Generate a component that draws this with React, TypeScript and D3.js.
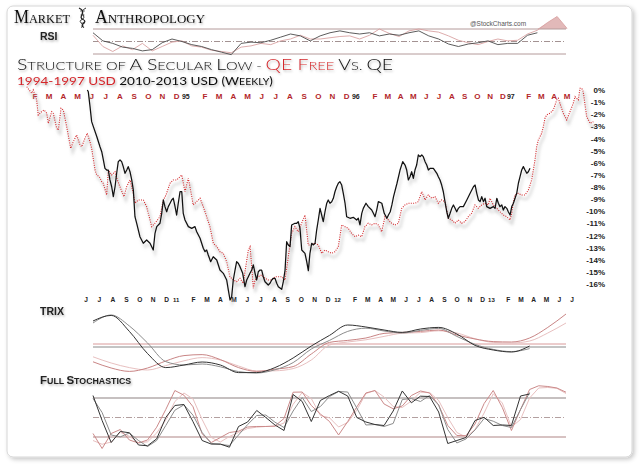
import React from "react";
import * as d3 from "d3";

const W = 640;
const H = 466;

const MONTH_LETTERS = ["J", "F", "M", "A", "M", "J", "J", "A", "S", "O", "N", "D"];
const TOP_YEARS = ["95", "96", "97"];
const BOTTOM_YEARS = ["11", "12", "13"];
const TOP_MONTHS = d3.range(1, 41); // Feb 1994 .. May 1997 (month index from Jan 1994)
const BOTTOM_MONTHS = d3.range(5, 43); // Jun 2010 .. Jul 2013 (month index from Jan 2010)
const PCT_TICKS = d3.range(0, -17, -1);

// 1994-1997 USD (weekly), % below high; [month index from Jan 1994, %]
const usd1994: [number, number][] = [
  [0.42, 0.27], [0.77, -0.27], [0.88, 0], [1.0, -0.41], [1.12, -0.82], [1.23, -2.06], [1.47, -1.79], [1.64, -1.65],
  [1.83, -1.92], [1.94, -2.75], [2.18, -1.79], [2.29, -1.92], [2.53, -3.16], [2.65, -3.3], [2.84, -1.51], [3.0, -1.65],
  [3.24, -3.03], [3.52, -4.81], [3.71, -4.26], [3.94, -3.71], [4.18, -4.54], [4.3, -4.68], [4.53, -3.98], [4.69, -3.57],
  [4.88, -4.26], [5.0, -4.81], [5.24, -6.6], [5.36, -7.01], [5.54, -7.15], [5.71, -7.56], [5.82, -7.69], [6.06, -8.66],
  [6.18, -6.6], [6.41, -7.01], [6.65, -6.74], [6.77, -7.28], [7.0, -7.98], [7.28, -8.8], [7.47, -7.98], [7.71, -7.42],
  [7.94, -8.52], [8.06, -9.34], [8.29, -9.07], [8.65, -9.07], [8.88, -9.62], [9.24, -11.27], [9.47, -10.99], [9.82, -10.45],
  [10.06, -9.07], [10.25, -8.66], [10.53, -7.69], [10.76, -7.42], [11.0, -7.42], [11.36, -7.01], [11.59, -8.39], [11.82, -7.28],
  [11.94, -7.98], [12.17, -9.48], [12.41, -9.21], [12.65, -8.93], [12.88, -9.62], [13.12, -10.45], [13.35, -11.27], [13.59, -12.64],
  [13.83, -12.92], [14.06, -13.34], [14.29, -13.47], [14.53, -14.16], [14.76, -15.4], [15.0, -15.67], [15.24, -15.81], [15.47, -15.53],
  [15.7, -15.94], [16.06, -13.2], [16.18, -12.92], [16.3, -14.57], [16.41, -16.35], [16.53, -15.67], [16.76, -15.4], [17.0, -15.26],
  [17.23, -15.53], [17.47, -15.67], [17.71, -15.67], [17.94, -15.4], [18.17, -15.4], [18.41, -15.4], [18.65, -15.67], [18.88, -13.75],
  [19.12, -11.82], [19.35, -11.27], [19.58, -11.69], [19.82, -10.99], [20.06, -10.31], [20.29, -12.78], [20.53, -12.78], [20.76, -12.64],
  [21.0, -12.78], [21.24, -13.47], [21.47, -13.2], [21.7, -13.34], [21.94, -13.47], [22.17, -13.34], [22.41, -12.92], [22.65, -11.13],
  [22.88, -11.27], [23.11, -11.41], [23.35, -11.82], [23.59, -12.1], [23.82, -11.96], [24.06, -12.1], [24.29, -11.27], [24.52, -10.99],
  [24.76, -11.13], [25.0, -10.99], [25.26, -11.13], [25.52, -11.69], [25.78, -10.45], [26.04, -10.72], [26.3, -10.99], [26.56, -11.13],
  [26.82, -10.99], [27.09, -9.76], [27.34, -9.48], [27.6, -9.34], [27.87, -9.34], [28.13, -9.34], [28.38, -9.21], [28.65, -8.39],
  [28.77, -8.66], [28.91, -9.07], [29.16, -8.66], [29.43, -8.93], [29.69, -8.8], [29.95, -9.34], [30.21, -9.07], [30.47, -9.21],
  [30.73, -10.58], [31.0, -10.72], [31.25, -10.99], [31.51, -10.72], [31.77, -10.99], [32.03, -10.86], [32.29, -10.45], [32.55, -10.17],
  [32.81, -9.48], [33.07, -9.76], [33.34, -9.48], [33.59, -9.34], [33.85, -9.48], [33.98, -8.93], [34.24, -9.48], [34.51, -9.76],
  [34.77, -10.04], [35.02, -10.31], [35.29, -10.45], [35.55, -10.72], [35.68, -10.17], [35.8, -9.34], [35.94, -8.66], [36.2, -8.52],
  [36.46, -8.66], [36.72, -8.66], [36.98, -8.25], [37.24, -7.42], [37.37, -6.6], [37.5, -5.77], [37.63, -4.68], [37.76, -4.12],
  [38.02, -3.57], [38.15, -3.03], [38.28, -2.33], [38.41, -2.06], [38.67, -1.92], [38.93, -1.65], [39.2, -0.82], [39.32, -0.68],
  [39.45, -1.1], [39.71, -1.92], [39.98, -2.47], [40.23, -1.79], [40.49, -1.1], [40.63, -0.55], [40.88, -0.82], [41.02, 0.14],
  [41.15, 0.14], [41.27, -0.14], [41.41, -1.24], [41.54, -2.2], [41.8, -2.75], [42.06, -2.61],
];

// 2010-2013 USD (weekly), % below high; [month index from Jan 2010, %]
const usd2010: [number, number][] = [
  [5.1, 0], [5.17, -0.14], [5.3, -1.37], [5.42, -2.61], [5.54, -3.0], [5.8, -3.83], [6.04, -4.68], [6.17, -5.09],
  [6.29, -5.77], [6.41, -6.46], [6.54, -6.6], [6.66, -6.6], [6.78, -7.42], [6.91, -7.98], [7.03, -8.8], [7.16, -7.98],
  [7.28, -6.87], [7.4, -5.91], [7.53, -5.77], [7.65, -5.91], [7.77, -6.32], [7.9, -6.87], [8.03, -6.6], [8.14, -6.32],
  [8.27, -6.74], [8.4, -7.42], [8.52, -8.25], [8.64, -10.45], [8.77, -11.0], [9.01, -12.1], [9.26, -12.64], [9.51, -12.37],
  [9.76, -12.64], [10.0, -13.2], [10.13, -11.82], [10.26, -11.27], [10.5, -10.99], [10.63, -10.17], [10.75, -9.07], [10.87, -9.62],
  [11.0, -10.04], [11.12, -9.62], [11.25, -9.34], [11.37, -9.07], [11.49, -8.93], [11.62, -9.62], [11.74, -10.31], [11.86, -9.34],
  [11.99, -8.39], [12.12, -8.39], [12.23, -10.17], [12.36, -10.72], [12.61, -11.27], [12.86, -11.41], [13.1, -11.27], [13.23, -11.69],
  [13.48, -12.23], [13.6, -12.64], [13.72, -13.05], [13.85, -13.33], [13.97, -13.2], [14.09, -13.61], [14.27, -14.16], [14.46, -13.75],
  [14.72, -14.02], [14.96, -14.85], [15.21, -15.12], [15.46, -15.67], [15.58, -16.49], [15.71, -17.32], [15.83, -17.05], [15.95, -15.67],
  [16.08, -14.85], [16.2, -14.16], [16.32, -14.29], [16.45, -14.57], [16.65, -15.12], [16.82, -16.22], [16.95, -15.67], [17.07, -15.4],
  [17.19, -15.12], [17.32, -14.85], [17.44, -14.43], [17.57, -15.12], [17.69, -15.67], [17.81, -14.99], [17.94, -14.85], [18.06, -14.85],
  [18.18, -15.4], [18.31, -15.81], [18.55, -16.08], [18.68, -15.94], [18.81, -15.67], [18.93, -15.53], [19.05, -15.53], [19.18, -15.94],
  [19.3, -16.22], [19.55, -16.44], [19.67, -15.81], [19.8, -14.85], [19.92, -12.51], [20.04, -12.78], [20.17, -12.92], [20.29, -11.13],
  [20.54, -10.99], [20.67, -10.99], [20.78, -10.86], [20.91, -11.41], [21.04, -13.2], [21.28, -13.47], [21.41, -14.16], [21.53, -14.9],
  [21.65, -13.47], [21.78, -12.64], [21.9, -12.78], [22.03, -12.64], [22.15, -11.55], [22.27, -10.72], [22.4, -9.76], [22.52, -10.31],
  [22.64, -10.86], [22.77, -10.04], [22.9, -9.34], [23.01, -9.07], [23.14, -9.34], [23.27, -9.21], [23.39, -8.93], [23.51, -8.39],
  [23.64, -7.98], [23.76, -7.69], [23.88, -7.56], [24.01, -7.84], [24.13, -8.52], [24.26, -9.34], [24.38, -10.45], [24.63, -10.58],
  [24.87, -10.5], [25.13, -10.72], [25.26, -10.58], [25.39, -11.13], [25.53, -10.17], [25.65, -9.76], [25.86, -9.34], [26.04, -9.62],
  [26.31, -9.9], [26.44, -10.17], [26.57, -10.45], [26.7, -9.9], [26.83, -9.21], [27.1, -9.34], [27.29, -10.17], [27.5, -10.58],
  [27.62, -10.31], [27.76, -10.04], [27.89, -9.48], [28.02, -8.8], [28.29, -7.69], [28.53, -6.6], [28.74, -5.91], [28.92, -6.19],
  [29.05, -6.6], [29.18, -7.42], [29.31, -7.15], [29.44, -6.74], [29.57, -7.28], [29.7, -6.6], [29.83, -6.19], [29.96, -5.36],
  [30.09, -5.5], [30.23, -5.36], [30.35, -5.5], [30.49, -5.91], [30.62, -6.19], [30.75, -6.6], [30.88, -6.46], [31.14, -6.46],
  [31.41, -6.87], [31.53, -7.15], [31.66, -7.42], [31.79, -7.84], [31.92, -8.39], [32.05, -9.21], [32.19, -10.04], [32.31, -10.58],
  [32.45, -10.17], [32.58, -9.76], [32.71, -9.48], [32.84, -9.76], [32.97, -10.04], [33.1, -9.76], [33.23, -9.62], [33.49, -9.62],
  [33.76, -9.07], [34.02, -8.52], [34.28, -7.98], [34.41, -7.84], [34.54, -8.52], [34.67, -9.07], [34.8, -9.21], [34.93, -8.8],
  [35.06, -9.21], [35.19, -8.93], [35.32, -9.62], [35.58, -9.76], [35.84, -9.62], [35.97, -9.76], [36.11, -8.93], [36.23, -9.34],
  [36.36, -9.62], [36.5, -9.48], [36.62, -9.9], [36.75, -9.62], [36.89, -9.76], [37.01, -10.04], [37.15, -10.31], [37.28, -9.62],
  [37.41, -9.34], [37.54, -8.93], [37.67, -8.52], [37.8, -7.69], [37.93, -7.15], [38.06, -6.6], [38.19, -6.32], [38.32, -6.6],
  [38.46, -6.87], [38.58, -6.74], [38.71, -6.46],
];

// RSI (equal steps across the panel)
const rsi2010 = [64, 51, 47, 41, 39, 35, 37, 48, 54, 50, 45, 42, 37, 33, 29, 47, 49, 48, 52, 57, 62, 59, 51, 59, 64, 67, 64, 62, 64, 59, 62, 60, 64, 67, 59, 54, 46, 42, 46, 48, 51, 45, 47, 47, 60, 64];
const rsi1994 = [60, 42, 34, 43, 37, 47, 35, 42, 49, 51, 43, 41, 36, 34, 32, 41, 43, 47, 45, 51, 54, 60, 54, 54, 56, 58, 59, 54, 60, 70, 63, 58, 67, 70, 67, 65, 59, 52, 48, 45, 50, 54, 51, 52, 62, 68, 80, 90, 71];

// TRIX and signal (6-week steps)
const trix2010 = [1.3, 1.58, 0.78, -0.33, -1.03, -0.9, -0.75, -0.9, -1.28, -1.28, -1.03, -0.55, 0.05, 0.58, 1.1, 1.0, 0.85, 0.73, 0.9, 0.98, 0.65, 0.08, -0.15, -0.25, 0.05];
const trixSig2010 = [1.2, 1.6, 1.05, 0.2, -0.73, -0.9, -0.85, -0.99, -1.23, -1.3, -1.14, -0.78, -0.1, 0.33, 0.78, 0.94, 0.8, 0.7, 0.83, 0.93, 0.53, 0.13, -0.12, -0.23, -0.08];
const trix1994 = [-0.89, -1.2, -1.37, -1.2, -0.85, -0.58, -0.53, -0.78, -1.18, -1.37, -1.26, -1.13, -0.5, 0.08, 0.18, 0.3, 0.53, 0.58, 0.63, 0.7, 0.45, 0.25, 0.12, 0.1, 0.3, 0.83, 1.5];
const trixSig1994 = [-0.64, -0.95, -1.18, -1.3, -1.08, -0.84, -0.68, -0.8, -1.1, -1.35, -1.34, -1.23, -0.8, -0.05, 0.1, 0.21, 0.38, 0.54, 0.57, 0.66, 0.55, 0.26, 0.08, 0.05, 0.15, 0.55, 1.05];

// Full stochastics %K / %D (3-week steps)
const stoK2010 = [83.8, 45.4, 11.5, 28.5, 26.5, 7.7, 6.5, 17.2, 50, 68.5, 70, 43.4, 14.6, 9.1, 9.2, 4.3, 36.2, 43.1, 60.8, 50, 38.5, 30, 85.4, 74.6, 43.8, 76.2, 83.8, 90.3, 83.1, 50, 43.1, 39.2, 37.7, 60, 90.8, 72.6, 82.8, 82.3, 58.5, 10, 14.6, 19.2, 45.4, 50.3, 37.7, 38.5, 37.7, 83.1, 86.2];
const stoD2010 = [79.2, 57.7, 23.1, 20.2, 26.2, 14.6, 5.4, 14.6, 37.7, 61.2, 69.5, 53.5, 26.9, 10, 8.5, 6.9, 23.1, 39.2, 53.1, 53.8, 42.8, 34.6, 60, 80.8, 59.2, 66.9, 82.3, 90, 89.2, 64.6, 38.5, 39.2, 36.2, 40.8, 77.7, 79.2, 74.6, 83.8, 69.2, 31.5, 10.8, 16.9, 30.8, 48.5, 44.3, 37.7, 34.6, 62.3, 88.5];
const stoK1994 = [25.4, 2.3, 25.4, 31.5, 15.4, 10.8, 15.4, 35.1, 62.3, 91.5, 84.3, 66.5, 24.8, 11.5, 19.2, 26.9, 28.9, 35.4, 36.2, 36.2, 36.9, 48.5, 88.9, 89.2, 68.5, 55.4, 43.8, 23.1, 43.8, 66.2, 87.7, 91.5, 70.8, 63.4, 67.7, 83.8, 90.8, 87.7, 69.2, 37.7, 22.3, 22, 40, 71.5, 91.5, 65.4, 30, 62.3, 93.1, 98.8, 97.7, 95.4, 88.9];
const stoD1994 = [14.6, 8.8, 12.3, 27.2, 21.1, 11.2, 12.6, 26.2, 46.2, 74.6, 87.7, 78.5, 46.9, 19.2, 12.3, 20.8, 26.9, 33.1, 35.1, 36.2, 36.2, 41.5, 70.3, 88.5, 79.2, 53.1, 49.5, 35.4, 42.3, 61.2, 86.9, 91.5, 81.5, 66.9, 65.4, 75.4, 88.9, 88.5, 76.2, 50, 26.9, 20, 31.5, 56.9, 86.5, 72.3, 35.4, 46.9, 80, 95.4, 96.2, 94.9, 86.9];

const SANS = "'Liberation Sans', Arial, sans-serif";
const SERIF = "'Liberation Serif', serif";
const LIGHT = "Lato, 'Open Sans', sans-serif";

const RED = "#d3272b";
const DARKRED = "#b3262b";

export default function App() {
  // main panel scales
  const xTop = d3.scaleLinear().domain([0, 25, 42]).range([20.8, 375, 592.6]);
  const xBot = d3.scaleLinear().domain([0, 25, 43]).range([18.75, 355, 584.76]);
  const y = d3.scaleLinear().domain([-16, 0]).range([284, 90]);

  const lineTop = d3.line<[number, number]>().x((d) => xTop(d[0])).y((d) => y(d[1]));
  const lineBot = d3.line<[number, number]>().x((d) => xBot(d[0])).y((d) => y(d[1]));

  // indicator panels
  const PX0 = 93;
  const PX1 = 566;
  const xRsi = d3.scaleLinear().domain([0, rsi1994.length - 1]).range([PX0, 567]);
  const yRsi = d3.scaleLinear().domain([30, 70]).range([54, 29]);
  const rsiLine = d3.line<number>().x((_, i) => xRsi(i)).y((d) => yRsi(d));
  const rsiArea = d3
    .area<number>()
    .x((_, i) => xRsi(i))
    .y0(yRsi(70))
    .y1((d) => yRsi(Math.max(70, d)));

  const xTrix = d3.scaleLinear().domain([0, trix1994.length - 1]).range([PX0, PX1]);
  const yTrixB = d3.scaleLinear().domain([0, 1]).range([347, 327]);
  const yTrixR = d3.scaleLinear().domain([0, 1]).range([344, 324]);
  const trixLineB = d3.line<number>().x((_, i) => xTrix(i)).y((d) => yTrixB(d)).curve(d3.curveMonotoneX);
  const trixLineR = d3.line<number>().x((_, i) => xTrix(i)).y((d) => yTrixR(d)).curve(d3.curveMonotoneX);

  const xSto = d3.scaleLinear().domain([0, stoK1994.length - 1]).range([PX0, PX1]);
  const ySto = d3.scaleLinear().domain([20, 80]).range([437, 398]);
  const stoLine = d3.line<number>().x((_, i) => xSto(i)).y((d) => ySto(d));

  const topLabels = TOP_MONTHS.map((m) => {
    const isYear = m % 12 === 0;
    return {
      key: m,
      text: isYear ? TOP_YEARS[m / 12 - 1] : MONTH_LETTERS[m % 12],
      x: xTop(m) - (isYear ? 5 : 0),
      isYear,
    };
  });
  const bottomLabels = BOTTOM_MONTHS.map((m) => {
    const isYear = m % 12 === 0;
    return {
      key: m,
      text: isYear ? BOTTOM_YEARS[m / 12 - 1] : MONTH_LETTERS[m % 12],
      x: xBot(m) - (isYear ? 4 : 0),
      isYear,
    };
  });

  return (
    <svg
      width={W}
      height={H}
      viewBox={`0 0 ${W} ${H}`}
      style={{ position: "absolute", left: 0, top: 0, background: "#fff" }}
    >
      <defs>
        <filter id="frameShadow" x="-5%" y="-5%" width="110%" height="110%">
          <feDropShadow dx="2" dy="2" stdDeviation="2.2" floodColor="#000" floodOpacity="0.22" />
        </filter>
        <filter id="textShadow" x="-10%" y="-30%" width="120%" height="170%">
          <feDropShadow dx="1" dy="1.5" stdDeviation="0.8" floodColor="#000" floodOpacity="0.3" />
        </filter>
        <filter id="blur" x="-5%" y="-5%" width="110%" height="110%">
          <feGaussianBlur stdDeviation="1.4" />
        </filter>
      </defs>

      {/* frame */}
      <rect x={7} y={6} width={625} height={451} rx={6} fill="#fff" stroke="#d6d6d6" filter="url(#frameShadow)" />

      {/* logo */}
      <g filter="url(#textShadow)" fill="#111" fontFamily={SERIF}>
        <text x={14} y={22.5} textLength={56} lengthAdjust="spacingAndGlyphs">
          <tspan fontSize={18.5}>M</tspan>
          <tspan fontSize={13.5}>ARKET</tspan>
        </text>
        <text x={95} y={22.5} textLength={110} lengthAdjust="spacingAndGlyphs">
          <tspan fontSize={18.5}>A</tspan>
          <tspan fontSize={13.5}>NTHROPOLOGY</tspan>
        </text>
      </g>
      <g stroke="#222" fill="none" strokeWidth={1.3}>
        <path d="M79,8 C88,12 77,17 83,19.5 C89,22 78,24.5 84,27.5" />
        <path d="M86,8 C77,12 88,17 82,19.5 C76,22 87,24.5 81,27.5" strokeWidth={0.9} />
        <path d="M80,11 L85,11 M80.5,15 L84.5,15 M81,23 L85,23" strokeWidth={0.6} />
      </g>

      {/* RSI panel */}
      <text x={40} y={39.5} fontFamily={SANS} fontWeight="bold" fontSize={10.5} fill="#222" filter="url(#textShadow)">
        RSI
      </text>
      <text x={470} y={25.5} fontFamily={SANS} fontSize={6.5} fill="#555">
        @StockCharts.com
      </text>
      <path d={rsiArea(rsi1994) ?? ""} fill="#e2b9b9" />
      <line x1={PX0} x2={PX1} y1={yRsi(70)} y2={yRsi(70)} stroke="#b49a9a" strokeWidth={1} />
      <line x1={PX0} x2={PX1} y1={yRsi(30)} y2={yRsi(30)} stroke="#b49a9a" strokeWidth={1} />
      <line x1={PX0} x2={PX1} y1={yRsi(50)} y2={yRsi(50)} stroke="#8c7676" strokeWidth={0.8} strokeDasharray="6 2 1 2" />
      <path d={rsiLine(rsi1994) ?? ""} fill="none" stroke="#d9a3a3" strokeWidth={0.9} />
      <path d={rsiLine(rsi2010) ?? ""} fill="none" stroke="#4a4a4a" strokeWidth={0.9} />

      {/* title */}
      <g filter="url(#textShadow)">
        <text x={17} y={69.5} fontFamily={LIGHT} fontWeight={300} fill="#111" textLength={376} lengthAdjust="spacingAndGlyphs">
          <tspan fontSize={16.5}>S</tspan>
          <tspan fontSize={12.5}>TRUCTURE OF </tspan>
          <tspan fontSize={16.5}>A S</tspan>
          <tspan fontSize={12.5}>ECULAR </tspan>
          <tspan fontSize={16.5}>L</tspan>
          <tspan fontSize={12.5}>OW - </tspan>
          <tspan fontSize={16.5} fill={RED}>QE F</tspan>
          <tspan fontSize={12.5} fill={RED}>REE </tspan>
          <tspan fontSize={16.5}>V</tspan>
          <tspan fontSize={12.5}>S. </tspan>
          <tspan fontSize={16.5}>QE</tspan>
        </text>
        <text x={17} y={84.5} fontFamily={LIGHT} fill="#111" textLength={256} lengthAdjust="spacingAndGlyphs">
          <tspan fontSize={11.5} fill={RED}>1994-1997 USD </tspan>
          <tspan fontSize={11.5}>2010-2013 USD (W</tspan>
          <tspan fontSize={9}>EEKLY</tspan>
          <tspan fontSize={11.5}>)</tspan>
        </text>
      </g>

      {/* top month labels (1994-1997) */}
      <g fontFamily={SANS} fontWeight="bold" textAnchor="middle">
        {topLabels.map((l) => (
          <text key={l.key} x={l.x} y={98.5} fontSize={l.isYear ? 7 : 8} fill={l.isYear ? "#222" : DARKRED}>
            {l.text}
          </text>
        ))}
      </g>

      {/* bottom month labels (2010-2013) */}
      <g fontFamily={SANS} fontWeight="bold" textAnchor="middle" fill="#222">
        {bottomLabels.map((l) => (
          <text key={l.key} x={l.x} y={302} fontSize={l.isYear ? 6 : 6.6}>
            {l.text}
          </text>
        ))}
      </g>

      {/* right axis */}
      <g fontFamily={SANS} fontWeight="bold" fontSize={8} fill="#222" textAnchor="end">
        {PCT_TICKS.map((t) => (
          <text key={t} x={605} y={y(t) + 3}>
            {`${t}%`}
          </text>
        ))}
      </g>

      {/* main series shadows */}
      <g transform="translate(2,4)" filter="url(#blur)" fill="none">
        <path d={lineTop(usd1994) ?? ""} stroke="#a8a8a8" strokeWidth={2} opacity={0.45} />
        <path d={lineBot(usd2010) ?? ""} stroke="#a8a8a8" strokeWidth={2} opacity={0.35} />
      </g>
      {/* main series */}
      <path d={lineTop(usd1994) ?? ""} fill="none" stroke={RED} strokeWidth={1.1} strokeDasharray="1 1.3" />
      <path d={lineBot(usd2010) ?? ""} fill="none" stroke="#111" strokeWidth={1.25} strokeLinejoin="round" />

      {/* TRIX panel */}
      <text x={40} y={314.5} fontFamily={SANS} fontWeight="bold" fontSize={10.5} fill="#222" filter="url(#textShadow)">
        TRIX
      </text>
      <line x1={PX0} x2={PX1} y1={yTrixR(0)} y2={yTrixR(0)} stroke="#d99a9a" strokeWidth={1} />
      <line x1={PX0} x2={PX1} y1={yTrixB(0)} y2={yTrixB(0)} stroke="#8a8a8a" strokeWidth={1} />
      <path d={trixLineR(trixSig1994) ?? ""} fill="none" stroke="#e8c0c0" strokeWidth={1} />
      <path d={trixLineR(trix1994) ?? ""} fill="none" stroke="#c98585" strokeWidth={1} />
      <path d={trixLineB(trixSig2010) ?? ""} fill="none" stroke="#8c8c8c" strokeWidth={1} />
      <path d={trixLineB(trix2010) ?? ""} fill="none" stroke="#333" strokeWidth={1} />

      {/* Full stochastics panel */}
      <text x={40} y={383.5} fontFamily={SANS} fontWeight="bold" fill="#222" filter="url(#textShadow)">
        <tspan fontSize={11.5}>F</tspan>
        <tspan fontSize={8.8}>ULL </tspan>
        <tspan fontSize={11.5}>S</tspan>
        <tspan fontSize={8.8}>TOCHASTICS</tspan>
      </text>
      <line x1={PX0} x2={PX1} y1={ySto(80)} y2={ySto(80)} stroke="#b3abab" strokeWidth={1.4} />
      <line x1={PX0} x2={PX1} y1={ySto(50)} y2={ySto(50)} stroke="#a08888" strokeWidth={0.8} strokeDasharray="6 2 1 2" />
      <line x1={PX0} x2={PX1} y1={ySto(20)} y2={ySto(20)} stroke="#b08585" strokeWidth={1.2} />
      <path d={stoLine(stoD1994) ?? ""} fill="none" stroke="#e8c0c0" strokeWidth={1} />
      <path d={stoLine(stoK1994) ?? ""} fill="none" stroke="#cc8a8a" strokeWidth={1} />
      <path d={stoLine(stoD2010) ?? ""} fill="none" stroke="#8c8c8c" strokeWidth={1} />
      <path d={stoLine(stoK2010) ?? ""} fill="none" stroke="#333" strokeWidth={1} />
    </svg>
  );
}
